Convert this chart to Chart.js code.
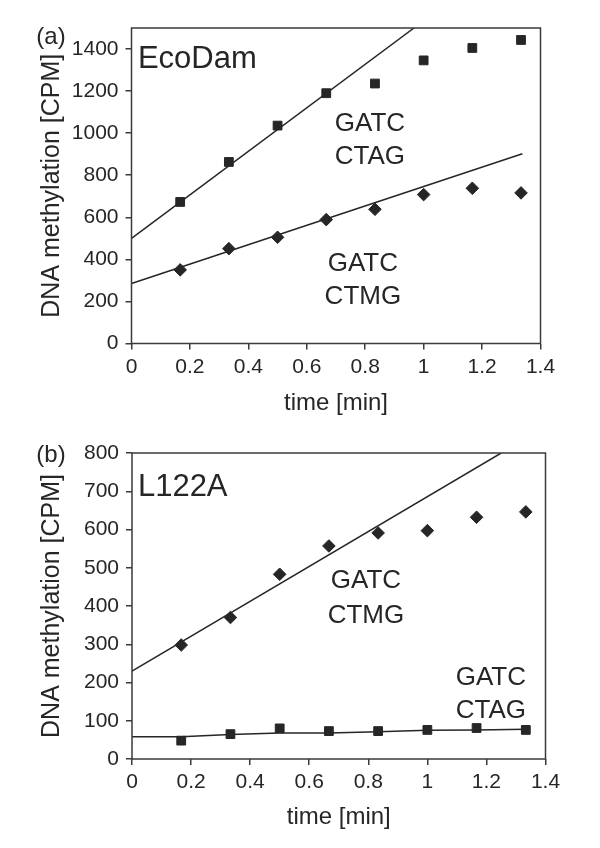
<!DOCTYPE html>
<html>
<head>
<meta charset="utf-8">
<script src="https://cdn.jsdelivr.net/npm/chart.js@4"></script>
<style>
  html, body { margin: 0; padding: 0; background: #fff; }
  .panel { position: absolute; left: 0; width: 600px; height: 424px; }
</style>
</head>
<body>
<div class="panel" style="top:0"><canvas id="chartA" width="600" height="424"></canvas></div>
<div class="panel" style="top:424px"><canvas id="chartB" width="600" height="424"></canvas></div>
<script>
// sampling times [min]
const times = [1/6, 2/6, 3/6, 4/6, 5/6, 1, 7/6, 8/6];

// (a) EcoDam
const ecoDamCTAG = [673, 863, 1036, 1190, 1236, 1346, 1405, 1443];
const ecoDamCTMG = [350, 451, 505, 589, 638, 708, 738, 716];
const ecoDamCTAGFitX = [0, 0.967];
const ecoDamCTAGFitY = [500, 1500];
const ecoDamCTMGFitX = [0, 1.338];
const ecoDamCTMGFitY = [285, 902];

// (b) L122A
const l122aCTMG = [298, 370, 483, 557, 591, 597, 632, 646];
const l122aCTAG = [48, 65, 80, 73, 73, 76, 81, 76];
const l122aCTMGFitX = [0, 1.25];
const l122aCTMGFitY = [230, 800];
const l122aCTAGFitX = [0, 1/6, 2/6, 3/6, 4/6, 5/6, 1, 7/6, 8/6];
const l122aCTAGFitY = [58, 58, 64, 68, 68, 71, 75, 76, 78];

// ticks
const xTickValues = [0, 0.2, 0.4, 0.6, 0.8, 1, 1.2, 1.4];
const xTickLabels = ['0', '0.2', '0.4', '0.6', '0.8', '1', '1.2', '1.4'];
const yTicksA = [0, 200, 400, 600, 800, 1000, 1200, 1400];
const yTicksB = [0, 100, 200, 300, 400, 500, 600, 700, 800];

const INK = '#262626';
const AXIS = '#3a3a3a';
const FONT = "'Liberation Sans', Arial, sans-serif";

const toXY = (xs, ys) => xs.map((x, i) => ({x, y: ys[i]}));

const framePlugin = {
    id: 'frame',
    afterDatasetsDraw(chart) {
        const {ctx, chartArea: a} = chart;
        ctx.save();
        ctx.strokeStyle = AXIS;
        ctx.lineWidth = 1.5;
        ctx.strokeRect(a.left, a.top, a.right - a.left, a.bottom - a.top);
        ctx.restore();
    }
};

const notesPlugin = {
    id: 'notes',
    afterDraw(chart, args, opts) {
        const {ctx, scales} = chart;
        ctx.save();
        ctx.fillStyle = INK;
        ctx.textBaseline = 'alphabetic';
        // panel letter, outside the plot
        ctx.font = `24px ${FONT}`;
        ctx.textAlign = 'center';
        ctx.fillText(opts.tag, 51, opts.tagY);
        opts.labels.forEach(l => {
            ctx.font = `${l.size}px ${FONT}`;
            ctx.textAlign = l.align;
            ctx.fillText(l.text, scales.x.getPixelForValue(l.x), scales.y.getPixelForValue(l.y));
        });
        ctx.restore();
    }
};

function makePanel(id, p) {
    const ctx = document.getElementById(id).getContext('2d');
    return new Chart(ctx, {
        type: 'scatter',
        data: {
            datasets: [
                {data: toXY(times, p.squares), pointStyle: 'rect', pointRadius: 6.2,
                 backgroundColor: INK, borderColor: INK, borderWidth: 1, showLine: false},
                {data: toXY(times, p.diamonds), pointStyle: 'rectRot', pointRadius: 6.3,
                 backgroundColor: INK, borderColor: INK, borderWidth: 1, showLine: false},
                {data: toXY(p.fit1X, p.fit1Y), showLine: true, pointRadius: 0,
                 borderColor: INK, borderWidth: 1.5},
                {data: toXY(p.fit2X, p.fit2Y), showLine: true, pointRadius: 0,
                 borderColor: INK, borderWidth: 1.5}
            ]
        },
        options: {
            responsive: false,
            animation: false,
            layout: {padding: {top: p.top, right: p.right, left: 0, bottom: 0}},
            plugins: {
                legend: {display: false},
                tooltip: {enabled: false},
                notes: {tag: p.tag, tagY: p.tagY, labels: p.labels}
            },
            scales: {
                x: {
                    type: 'linear', min: 0, max: 1.4,
                    afterBuildTicks: s => { s.ticks = xTickValues.map(v => ({value: v})); },
                    afterFit: s => { s.height = p.bottomH; },
                    border: {display: false},
                    grid: {drawOnChartArea: false, drawTicks: true, tickLength: 6, color: AXIS, lineWidth: 1.5},
                    ticks: {
                        color: INK, padding: 5, maxRotation: 0, autoSkip: false,
                        font: {family: FONT, size: 21},
                        callback: (v, i) => xTickLabels[i]
                    },
                    title: {display: true, text: 'time [min]', color: INK,
                        font: {family: FONT, size: 24}, padding: {top: 0, bottom: p.xTitlePad}}
                },
                y: {
                    min: 0, max: p.yMax,
                    afterBuildTicks: s => { s.ticks = p.yTicks.map(v => ({value: v})); },
                    afterFit: s => { s.width = p.leftW; },
                    border: {display: false},
                    grid: {drawOnChartArea: false, drawTicks: true, tickLength: 6, color: AXIS, lineWidth: 1.5},
                    ticks: {
                        color: INK, padding: 7, autoSkip: false,
                        font: {family: FONT, size: 21},
                        callback: v => String(v)
                    },
                    title: {display: true, text: 'DNA methylation [CPM]', color: INK,
                        font: {family: FONT, size: 25}, padding: {top: 37, bottom: 0}}
                }
            }
        },
        plugins: [framePlugin, notesPlugin]
    });
}

makePanel('chartA', {
    squares: ecoDamCTAG, diamonds: ecoDamCTMG,
    fit1X: ecoDamCTAGFitX, fit1Y: ecoDamCTAGFitY,
    fit2X: ecoDamCTMGFitX, fit2Y: ecoDamCTMGFitY,
    yMax: 1500, yTicks: yTicksA,
    top: 28, right: 59.5, leftW: 131.5, bottomH: 80.5, xTitlePad: 6.6,
    tag: '(a)', tagY: 44,
    labels: [
        {text: 'EcoDam', x: 0.022, y: 1310, size: 31, align: 'left'},
        {text: 'GATC', x: 0.816, y: 1010, size: 26, align: 'center'},
        {text: 'CTAG', x: 0.816, y: 853, size: 26, align: 'center'},
        {text: 'GATC', x: 0.792, y: 345, size: 26, align: 'center'},
        {text: 'CTMG', x: 0.792, y: 188, size: 26, align: 'center'}
    ]
});

makePanel('chartB', {
    squares: l122aCTAG, diamonds: l122aCTMG,
    fit1X: l122aCTMGFitX, fit1Y: l122aCTMGFitY,
    fit2X: l122aCTAGFitX, fit2Y: l122aCTAGFitY,
    yMax: 800, yTicks: yTicksB,
    top: 29, right: 54.5, leftW: 132, bottomH: 89, xTitlePad: 16.6,
    tag: '(b)', tagY: 38,
    labels: [
        {text: 'L122A', x: 0.02, y: 688, size: 31, align: 'left'},
        {text: 'GATC', x: 0.792, y: 447, size: 26, align: 'center'},
        {text: 'CTMG', x: 0.792, y: 356, size: 26, align: 'center'},
        {text: 'GATC', x: 1.215, y: 193, size: 26, align: 'center'},
        {text: 'CTAG', x: 1.215, y: 107, size: 26, align: 'center'}
    ]
});
</script>
</body>
</html>
